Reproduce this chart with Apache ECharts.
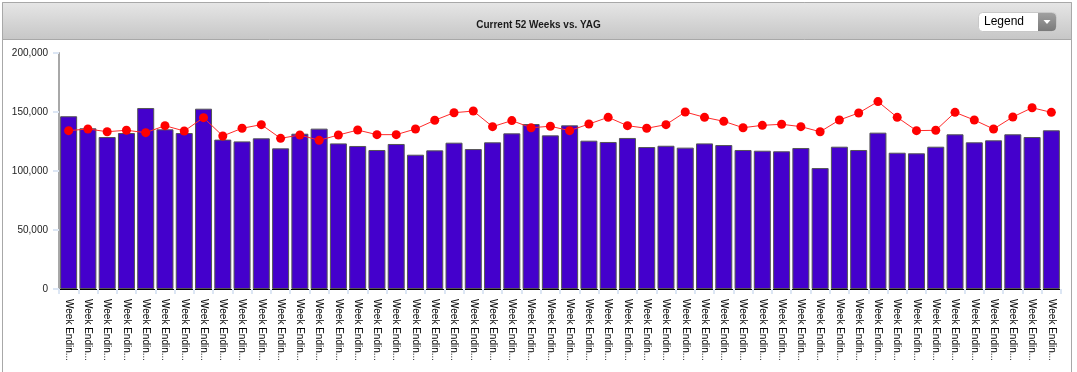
<!DOCTYPE html>
<html><head><meta charset="utf-8">
<script src="https://cdn.jsdelivr.net/npm/echarts@6/dist/echarts.min.js"></script>
<style>html,body{margin:0;padding:0;background:#fff;}#c{width:1077px;height:372px;}</style>
</head><body><div id="c"></div>
<script>
const chartTitle = 'Current 52 Weeks vs. YAG';
const categories = [
 'Week Endin...','Week Endin...','Week Endin...','Week Endin...','Week Endin...','Week Endin...','Week Endin...','Week Endin...',
 'Week Endin...','Week Endin...','Week Endin...','Week Endin...','Week Endin...','Week Endin...','Week Endin...','Week Endin...',
 'Week Endin...','Week Endin...','Week Endin...','Week Endin...','Week Endin...','Week Endin...','Week Endin...','Week Endin...',
 'Week Endin...','Week Endin...','Week Endin...','Week Endin...','Week Endin...','Week Endin...','Week Endin...','Week Endin...',
 'Week Endin...','Week Endin...','Week Endin...','Week Endin...','Week Endin...','Week Endin...','Week Endin...','Week Endin...',
 'Week Endin...','Week Endin...','Week Endin...','Week Endin...','Week Endin...','Week Endin...','Week Endin...','Week Endin...',
 'Week Endin...','Week Endin...','Week Endin...','Week Endin...'
];
const currentValues = [
 146400,136200,128800,132200,153400,135300,132200,152800,126600,125100,
 127700,119200,131600,135900,123400,121200,117800,122900,113800,117500,
 124000,118600,124300,131900,139800,130200,138700,125700,124600,128000,
 120300,121400,119800,123400,122000,117800,117200,116700,119500,102500,
 120600,117800,132500,115500,115000,120600,131100,124300,126000,131100,
 128800,134500
];
const yagValues = [
 134200,135600,133300,134500,132500,138400,133900,145200,129700,136200,
 139300,127700,130500,126000,130500,134700,130800,130800,135600,143000,
 149400,150800,137600,142700,136700,137900,134200,139800,145500,138400,
 136200,139300,150000,145500,142100,136700,138700,139600,137600,133300,
 143200,149200,158800,145500,134200,134500,149700,143200,135600,145800,
 153600,149700
];
const yMin = 0, yMax = 200000, yStep = 50000;

const chart = echarts.init(document.getElementById('c'), null, {renderer: 'canvas'});
const fontSans = '"Liberation Sans", Arial, sans-serif';
chart.setOption({
  animation: false,
  backgroundColor: '#ffffff',
  title: {
    text: chartTitle, left: 'center', top: 15,
    textStyle: {fontSize: 10, fontWeight: 'bold', color: '#1a1a1a', fontFamily: '"Liberation Sans Narrow", "Arial Narrow", ' + fontSans}
  },
  graphic: [
    {type: 'rect', z: -10, shape: {x: 2.5, y: 2.5, width: 1069, height: 400}, style: {fill: '#fff', stroke: '#a8a8a8', lineWidth: 1}},
    {type: 'rect', z: -9, shape: {x: 2.5, y: 2.5, width: 1069, height: 37},
     style: {fill: new echarts.graphic.LinearGradient(0, 0, 0, 1, [{offset: 0, color: '#e6e6e6'}, {offset: 1, color: '#c6c6c6'}]), stroke: '#a8a8a8', lineWidth: 1}},
    {type: 'rect', z: 10, shape: {x: 978.5, y: 12.5, width: 78, height: 19, r: 4}, style: {fill: '#ffffff', stroke: '#c8c8c8', lineWidth: 1}},
    {type: 'rect', z: 11, shape: {x: 1038, y: 13, width: 18, height: 18, r: [0, 4, 4, 0]},
     style: {fill: new echarts.graphic.LinearGradient(0, 0, 0, 1, [{offset: 0, color: '#a0a0a0'}, {offset: 1, color: '#7a7a7a'}])}},
    {type: 'polygon', z: 12, shape: {points: [[1043.5, 20], [1050.5, 20], [1047, 24]]}, style: {fill: '#ffffff'}},
    {type: 'text', z: 12, x: 984, y: 22, style: {text: 'Legend', fontSize: 12, fill: '#000', fontFamily: fontSans, verticalAlign: 'middle'}}
  ],
  grid: {left: 59, right: 16, top: 53, bottom: 83, containLabel: false},
  xAxis: {
    type: 'category', data: categories,
    axisLine: {show: true, lineStyle: {color: '#000', width: 1}},
    axisTick: {show: true, alignWithLabel: false, length: 5, lineStyle: {color: '#dce6f4', width: 2}},
    axisLabel: {rotate: -90, margin: 10, fontSize: 10, color: '#000', fontFamily: fontSans, interval: 0}
  },
  yAxis: {
    type: 'value', min: yMin, max: yMax, interval: yStep,
    axisLine: {show: true, lineStyle: {color: '#a8a8a8', width: 2}},
    axisTick: {show: true, length: 6, lineStyle: {color: '#dce6f4', width: 2}},
    splitLine: {show: false},
    axisLabel: {margin: 11, fontSize: 10, color: '#222', fontFamily: fontSans,
      formatter: v => v.toLocaleString('en-US')}
  },
  series: [
    {name: 'Current 52 Weeks', type: 'bar', data: currentValues, barWidth: 17,
     itemStyle: {color: '#4400cc', borderColor: '#555', borderWidth: 1}},
    {name: 'YAG', type: 'line', data: yagValues, symbol: 'circle', symbolSize: 9, z: 5,
     lineStyle: {color: '#ff2a2a', width: 1}, itemStyle: {color: '#ff0000'}}
  ]
});
</script></body></html>
